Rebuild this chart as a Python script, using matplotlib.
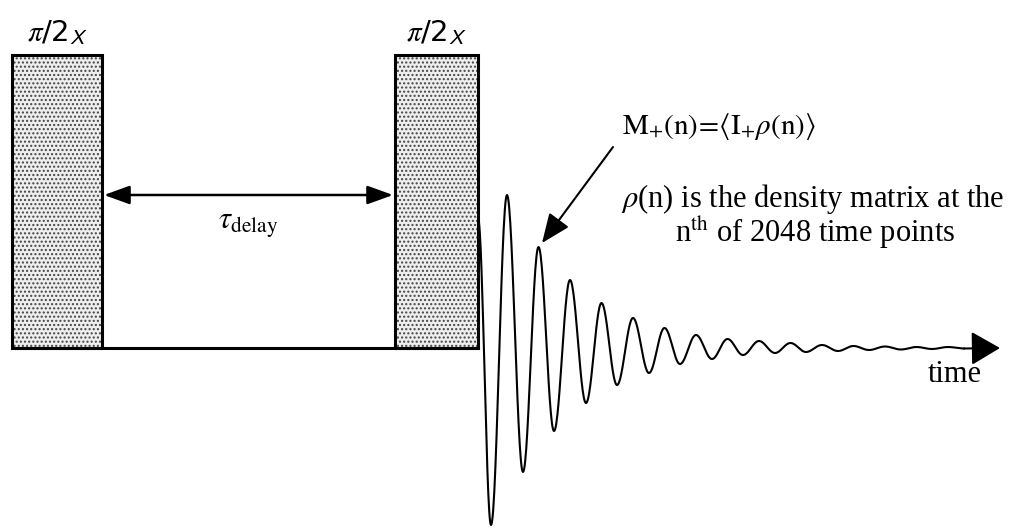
import matplotlib
matplotlib.use('Agg')
import matplotlib.pyplot as plt
import numpy as np
from matplotlib.patches import Rectangle

plt.rcParams['font.family'] = ['Liberation Serif', 'DejaVu Serif']
plt.rcParams['mathtext.fontset'] = 'stix'
plt.rcParams['hatch.linewidth'] = 1.0

# pulse sequence (time axis in arbitrary units, amplitude relative to baseline)
pulse_labels = [r'$\pi$/2$_{\mathsf{X}}$', r'$\pi$/2$_{\mathsf{X}}$']
pulse_start = [0, 383]
pulse_end = [90, 466]
pulse_height = 293

delay_level = 153
delay_label = r'$\tau_{\mathrm{delay}}$'

# free induction decay: successive extrema of the signal
fid_t = [466, 479, 495, 511, 526.5, 542, 558, 574, 589.5, 605, 621, 637,
         652.5, 668, 684, 700, 715.5, 731, 747, 763, 778.5, 794, 810, 826,
         841.5, 857, 873, 889, 904.5, 920, 936, 952]
fid_amp = [130, -177, 153, -124, 101, -83, 68, -55, 45, -37, 30, -25,
           20, -16, 13, -11, 9, -7, 7, -5, 5, -4, 3, -3,
           2, -2, 1.5, -1.5, 1, -1, 1, -0.5]
time_end = 988

signal_label = r'$\mathrm{M}_{+}(\mathrm{n})\!=\!\langle \mathrm{I}_{+}\rho(\mathrm{n})\rangle$'
note_lines = [r'$\rho$(n) is the density matrix at the',
              r'n$^{\mathrm{th}}$ of 2048 time points']

fig = plt.figure(figsize=(10.16, 5.28), dpi=100)
ax = fig.add_axes([0, 0, 1, 1])
ax.set_xlim(-12, 1004)
ax.set_ylim(-180, 348)
ax.axis('off')

FS = 22

# pulses
for lab, t0, t1 in zip(pulse_labels, pulse_start, pulse_end):
    ax.add_patch(Rectangle((t0, 0), t1 - t0, pulse_height, facecolor='#eeeeee',
                           edgecolor='#444444', hatch='....', lw=0, zorder=1))
    ax.add_patch(Rectangle((t0, 0), t1 - t0, pulse_height, facecolor='none',
                           edgecolor='black', lw=2.2, zorder=2))
    ax.text((t0 + t1) / 2, pulse_height + 22, lab, ha='center', va='center',
            fontsize=21, family='DejaVu Sans')

# baseline between the pulses
ax.plot([pulse_start[0], pulse_end[1]], [0, 0], color='black', lw=2.2, zorder=2)

# delay arrow
ax.annotate('', xy=(pulse_end[0] + 2, delay_level), xytext=(pulse_start[1] - 2, delay_level),
            arrowprops=dict(arrowstyle='<|-|>,head_length=1.05,head_width=0.38',
                            mutation_scale=15, lw=1.8, color='black', shrinkA=0, shrinkB=0))
ax.text((pulse_end[0] + pulse_start[1]) / 2, delay_level - 30, delay_label,
        ha='center', va='center', fontsize=FS)

# FID drawn as half-cosine strokes between extrema
xs, ys = [], []
for i in range(len(fid_t) - 1):
    s = np.linspace(0, 1, 30)
    w = (1 - np.cos(np.pi * s)) / 2
    xs.extend(fid_t[i] + (fid_t[i + 1] - fid_t[i]) * s)
    ys.extend(fid_amp[i] * (1 - w) + fid_amp[i + 1] * w)
ax.plot(xs, ys, color='black', lw=1.5, zorder=3)

# time axis arrow
ax.annotate('', xy=(time_end, 0), xytext=(fid_t[-1], fid_amp[-1]),
            arrowprops=dict(arrowstyle='-|>,head_length=1.2,head_width=0.7',
                            mutation_scale=15, lw=1.5, color='black', shrinkA=0, shrinkB=0))
ax.text(943, -27, 'time', ha='center', va='center', fontsize=FS)

# signal annotation
ax.annotate('', xy=(530, 105), xytext=(601, 201),
            arrowprops=dict(arrowstyle='-|>,head_length=1.2,head_width=0.5',
                            mutation_scale=15, lw=1.5, color='black', shrinkA=0, shrinkB=0))
ax.text(610, 222, signal_label, ha='left', va='center', fontsize=21)
ax.text(801, 149, note_lines[0], ha='center', va='center', fontsize=FS)
ax.text(803, 115, note_lines[1], ha='center', va='center', fontsize=FS)

fig.savefig('out.png', dpi=100)
